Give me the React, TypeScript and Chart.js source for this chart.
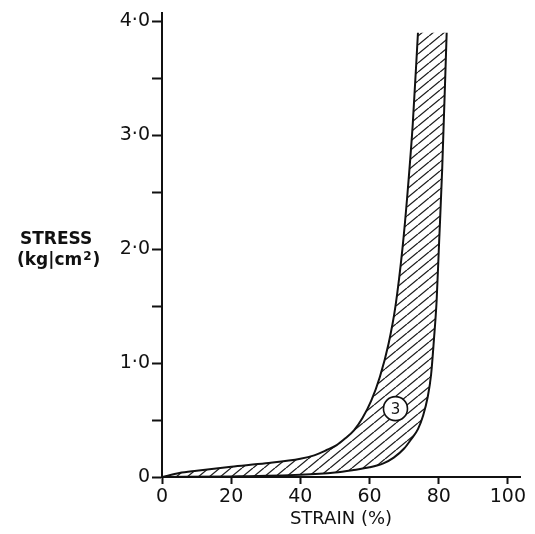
import React, { useEffect, useRef } from "react";
import { Chart, registerables } from "chart.js";

Chart.register(...registerables);

// ---- data ----
const X_TICKS = [0, 20, 40, 60, 80, 100];
const X_LABELS = ["0", "20", "40", "60", "80", "100"];
const Y_TICKS = [0, 0.5, 1, 1.5, 2, 2.5, 3, 3.5, 4];
const Y_LABELS = ["0", "", "1·0", "", "2·0", "", "3·0", "", "4·0"];

// left / upper boundary of the band (strain %, stress kg/cm2)
const LEFT_STRAIN = [0, 5, 10, 20, 30, 40, 44, 47.5, 50.5, 53, 55.5, 58, 60.5, 63, 65.5, 67.5, 69.5, 71, 72.5, 74];
const LEFT_STRESS = [0, 0.035, 0.055, 0.09, 0.12, 0.16, 0.19, 0.235, 0.28, 0.34, 0.41, 0.52, 0.67, 0.88, 1.17, 1.5, 2.0, 2.5, 3.1, 3.9];

// right / lower boundary of the band
const RIGHT_STRAIN = [0, 20, 40, 50, 55, 60, 64, 67, 70, 72, 74, 75.5, 76.8, 77.8, 78.6, 79.4, 80.1, 81.0, 82.3];
const RIGHT_STRESS = [0, 0.005, 0.02, 0.04, 0.06, 0.085, 0.12, 0.17, 0.25, 0.33, 0.42, 0.54, 0.7, 0.9, 1.2, 1.55, 2.05, 2.7, 3.9];

const BAND_LABEL = "3";
const BAND_LABEL_STRAIN = 67.5;
const BAND_LABEL_STRESS = 0.6;

const Y_TITLE_LINE1 = "STRESS";
const Y_TITLE_LINE2 = "(kg|cm";
const Y_TITLE_SUP = "2";
const Y_TITLE_END = ")";
const X_TITLE = "STRAIN (%)";

const FONT = "'DejaVu Sans', 'Liberation Sans', sans-serif";
const INK = "#111111";

function makeHatch(ctx: CanvasRenderingContext2D) {
  const w = 11;
  const h = 9;
  const c = document.createElement("canvas");
  c.width = w;
  c.height = h;
  const g = c.getContext("2d")!;
  g.strokeStyle = "#1e1e1e";
  g.lineWidth = 1.3;
  g.beginPath();
  for (const dx of [-w, 0, w]) {
    g.moveTo(dx, h);
    g.lineTo(dx + w, 0);
  }
  g.stroke();
  return ctx.createPattern(c, "repeat");
}

const hatchPlugin = {
  id: "hatchBand",
  beforeDatasetsDraw(chart: any) {
    const a: any = chart.getDatasetMeta(0).dataset;
    const b: any = chart.getDatasetMeta(1).dataset;
    if (!a || !b || !a.segments.length || !b.segments.length) return;
    const ctx = chart.ctx as CanvasRenderingContext2D;
    const area = chart.chartArea;
    ctx.save();
    ctx.beginPath();
    ctx.rect(area.left, area.top, area.right - area.left, area.bottom - area.top);
    ctx.clip();
    ctx.beginPath();
    a.pathSegment(ctx, a.segments[0]);
    b.pathSegment(ctx, b.segments[0], { move: false, reverse: true });
    ctx.closePath();
    const pat = makeHatch(ctx);
    if (pat) ctx.fillStyle = pat;
    ctx.fill();
    ctx.restore();
  },
  afterDatasetsDraw(chart: any) {
    const ctx = chart.ctx as CanvasRenderingContext2D;
    const x = chart.scales.x.getPixelForValue(BAND_LABEL_STRAIN);
    const y = chart.scales.y.getPixelForValue(BAND_LABEL_STRESS);
    ctx.save();
    ctx.beginPath();
    ctx.arc(x, y, 12, 0, Math.PI * 2);
    ctx.fillStyle = "#ffffff";
    ctx.fill();
    ctx.lineWidth = 1.6;
    ctx.strokeStyle = INK;
    ctx.stroke();
    ctx.fillStyle = INK;
    ctx.font = `15px ${FONT}`;
    ctx.textAlign = "center";
    ctx.textBaseline = "middle";
    ctx.fillText(BAND_LABEL, x, y + 1);
    ctx.restore();
  },
  afterDraw(chart: any) {
    const ctx = chart.ctx as CanvasRenderingContext2D;
    ctx.save();
    ctx.fillStyle = INK;
    ctx.textAlign = "left";
    ctx.textBaseline = "alphabetic";
    ctx.font = `bold 17px ${FONT}`;
    ctx.fillText(Y_TITLE_LINE1, 20, 244);
    ctx.fillText(Y_TITLE_LINE2, 17, 265);
    const w = ctx.measureText(Y_TITLE_LINE2).width;
    ctx.font = `bold 12px ${FONT}`;
    ctx.fillText(Y_TITLE_SUP, 17 + w + 1, 260);
    const w2 = ctx.measureText(Y_TITLE_SUP).width;
    ctx.font = `bold 17px ${FONT}`;
    ctx.fillText(Y_TITLE_END, 17 + w + w2 + 2, 265);
    ctx.restore();
  },
};

export default function App() {
  const ref = useRef<HTMLCanvasElement | null>(null);

  useEffect(() => {
    if (!ref.current) return;
    const leftPts = LEFT_STRAIN.map((x, i) => ({ x, y: LEFT_STRESS[i] }));
    const rightPts = RIGHT_STRAIN.map((x, i) => ({ x, y: RIGHT_STRESS[i] }));

    const chart = new Chart(ref.current, {
      type: "line",
      data: {
        datasets: [
          {
            data: leftPts,
            borderColor: INK,
            borderWidth: 2,
            pointRadius: 0,
            fill: false,
            cubicInterpolationMode: "monotone",
          },
          {
            data: rightPts,
            borderColor: INK,
            borderWidth: 2,
            pointRadius: 0,
            fill: false,
            cubicInterpolationMode: "monotone",
          },
        ],
      },
      options: {
        animation: false,
        responsive: false,
        devicePixelRatio: 1,
        layout: { padding: { top: 13, right: 15, left: 0, bottom: 0 } },
        plugins: {
          legend: { display: false },
          tooltip: { enabled: false },
        },
        scales: {
          x: {
            type: "linear",
            min: 0,
            max: 103.5,
            afterBuildTicks: (s: any) => {
              s.ticks = X_TICKS.map((v) => ({ value: v }));
            },
            afterFit: (s: any) => {
              s.height = 57;
            },
            ticks: {
              autoSkip: false,
              maxRotation: 0,
              padding: 2,
              color: INK,
              font: { family: FONT, size: 19 },
              callback: (v: any) => {
                const i = X_TICKS.indexOf(Number(v));
                return i >= 0 ? X_LABELS[i] : "";
              },
            },
            grid: {
              display: true,
              drawOnChartArea: false,
              drawTicks: true,
              tickLength: 7,
              tickColor: INK,
              tickWidth: 2,
              color: INK,
            },
            border: { display: true, color: INK, width: 2 },
            title: {
              display: true,
              text: X_TITLE,
              color: INK,
              font: { family: FONT, size: 18 },
              padding: { top: 0, bottom: 4 },
            },
          },
          y: {
            type: "linear",
            min: 0,
            max: 4.07,
            afterBuildTicks: (s: any) => {
              s.ticks = Y_TICKS.map((v) => ({ value: v }));
            },
            afterFit: (s: any) => {
              s.width = 162;
            },
            ticks: {
              autoSkip: false,
              padding: 2,
              color: INK,
              font: { family: FONT, size: 19 },
              callback: (v: any) => {
                const i = Y_TICKS.indexOf(Number(v));
                return i >= 0 ? Y_LABELS[i] : "";
              },
            },
            grid: {
              display: true,
              drawOnChartArea: false,
              drawTicks: true,
              tickLength: 10,
              tickColor: INK,
              tickWidth: 2,
              color: INK,
            },
            border: { display: true, color: INK, width: 2 },
          },
        },
      },
      plugins: [hatchPlugin],
    } as any);

    return () => chart.destroy();
  }, []);

  return (
    <div style={{ position: "fixed", left: 0, top: 0, width: 535, height: 534, background: "#fff" }}>
      <canvas ref={ref} width={535} height={534} style={{ width: 535, height: 534, display: "block" }} />
    </div>
  );
}
